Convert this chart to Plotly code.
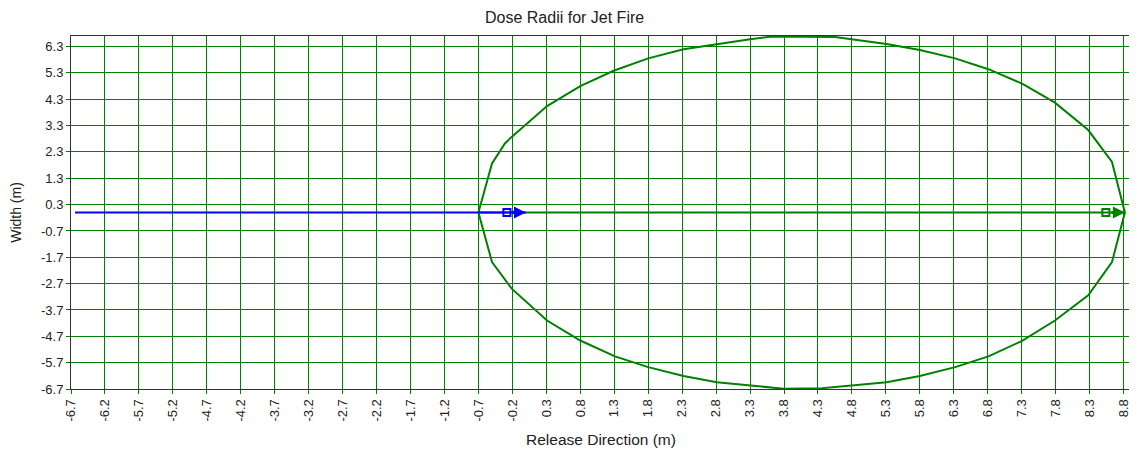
import plotly.graph_objects as go

# ---- data ----
x_tick_labels = ["-6.7", "-6.2", "-5.7", "-5.2", "-4.7", "-4.2", "-3.7", "-3.2", "-2.7", "-2.2",
                 "-1.7", "-1.2", "-0.7", "-0.2", "0.3", "0.8", "1.3", "1.8", "2.3", "2.8",
                 "3.3", "3.8", "4.3", "4.8", "5.3", "5.8", "6.3", "6.8", "7.3", "7.8", "8.3", "8.8"]
y_tick_labels = ["-6.7", "-5.7", "-4.7", "-3.7", "-2.7", "-1.7", "-0.7", "0.3",
                 "1.3", "2.3", "3.3", "4.3", "5.3", "6.3"]

# dose contour (polygon vertices, upper half left->right then lower half right->left)
contour_x = [-0.70, -0.50, -0.31, -0.21, 0.31, 0.80, 1.29, 1.80, 2.32, 2.81, 3.30, 3.62, 4.55,
             5.31, 5.80, 6.32, 6.81, 7.30, 7.79, 8.28, 8.63, 8.82,
             8.63, 8.28, 7.79, 7.30, 6.81, 6.32, 5.80, 5.31, 4.77, 4.36, 3.79, 3.40, 2.81,
             2.32, 1.80, 1.31, 0.80, 0.31, -0.21, -0.50, -0.70]
contour_y = [0.00, 1.86, 2.62, 2.87, 4.04, 4.80, 5.38, 5.85, 6.20, 6.40, 6.58, 6.68, 6.66,
             6.40, 6.17, 5.85, 5.44, 4.90, 4.17, 3.13, 1.92, 0.00,
             -1.88, -3.14, -4.10, -4.88, -5.46, -5.87, -6.21, -6.44, -6.57, -6.67, -6.69, -6.59, -6.44,
             -6.21, -5.87, -5.46, -4.86, -4.10, -2.89, -1.88, 0.00]

# release direction segments
blue_x = [-6.64, 0.00]
blue_y = [0.0, 0.0]
green_x = [-0.70, 8.82]
green_y = [0.0, 0.0]

GREEN = "#008000"
BLUE = "#0000FF"
FONT = "Liberation Sans, Arial, sans-serif"

fig = go.Figure()

fig.add_trace(go.Scatter(x=contour_x, y=contour_y, mode="lines",
                         line=dict(color=GREEN, width=2), hoverinfo="skip"))
fig.add_trace(go.Scatter(x=green_x, y=green_y, mode="lines",
                         line=dict(color=GREEN, width=2), hoverinfo="skip"))
fig.add_trace(go.Scatter(x=blue_x, y=blue_y, mode="lines",
                         line=dict(color=BLUE, width=2), hoverinfo="skip"))

# arrow heads at ends of the direction segments
for xs, ys, col in [(blue_x, blue_y, BLUE), (green_x, green_y, GREEN)]:
    fig.add_annotation(x=xs[-1], y=ys[-1], ax=xs[-1] - 0.22, ay=ys[-1],
                       xref="x", yref="y", axref="x", ayref="y",
                       showarrow=True, arrowhead=2, arrowsize=0.8, arrowwidth=3,
                       arrowcolor=col, text="")
    fig.add_trace(go.Scatter(x=[xs[-1] - 0.28], y=[ys[-1]], mode="markers",
                             marker=dict(symbol="square-open", size=7, color=col,
                                         line=dict(width=2, color=col)),
                             hoverinfo="skip"))

x_vals = [float(v) for v in x_tick_labels]
y_vals = [float(v) for v in y_tick_labels]

# the page body adds an 8px offset, so the figure is drawn 16px smaller
fig.update_layout(
    width=1129, height=443,
    margin=dict(l=63, r=6, t=28, b=62),
    paper_bgcolor="white", plot_bgcolor="white",
    showlegend=False,
    font=dict(family=FONT, size=13, color="#222222"),
    title=dict(text="Dose Radii for Jet Fire", x=0.493, xanchor="center",
               y=0.978, yanchor="middle", font=dict(family=FONT, size=16, color="#222222")),
)
fig.update_xaxes(
    range=[-6.7, 8.91], tickmode="array", tickvals=x_vals, ticktext=x_tick_labels,
    tickangle=-90, showgrid=True, gridcolor=GREEN, gridwidth=1, zeroline=False,
    ticks="outside", ticklen=4, tickcolor=GREEN,
    showline=True, linecolor="#333333", linewidth=1, mirror=True,
    title=dict(text="Release Direction (m)", standoff=13, font=dict(size=15.5)),
    tickfont=dict(size=13),
)
fig.update_yaxes(
    range=[-6.7, 6.7], tickmode="array", tickvals=y_vals, ticktext=y_tick_labels,
    showgrid=True, gridcolor=GREEN, gridwidth=1, zeroline=False,
    ticks="outside", ticklen=4, tickcolor=GREEN,
    showline=True, linecolor="#333333", linewidth=1, mirror=True,
    title=dict(text="Width (m)", standoff=16, font=dict(size=14)),
    tickfont=dict(size=13),
)

fig.write_html("out.html")
